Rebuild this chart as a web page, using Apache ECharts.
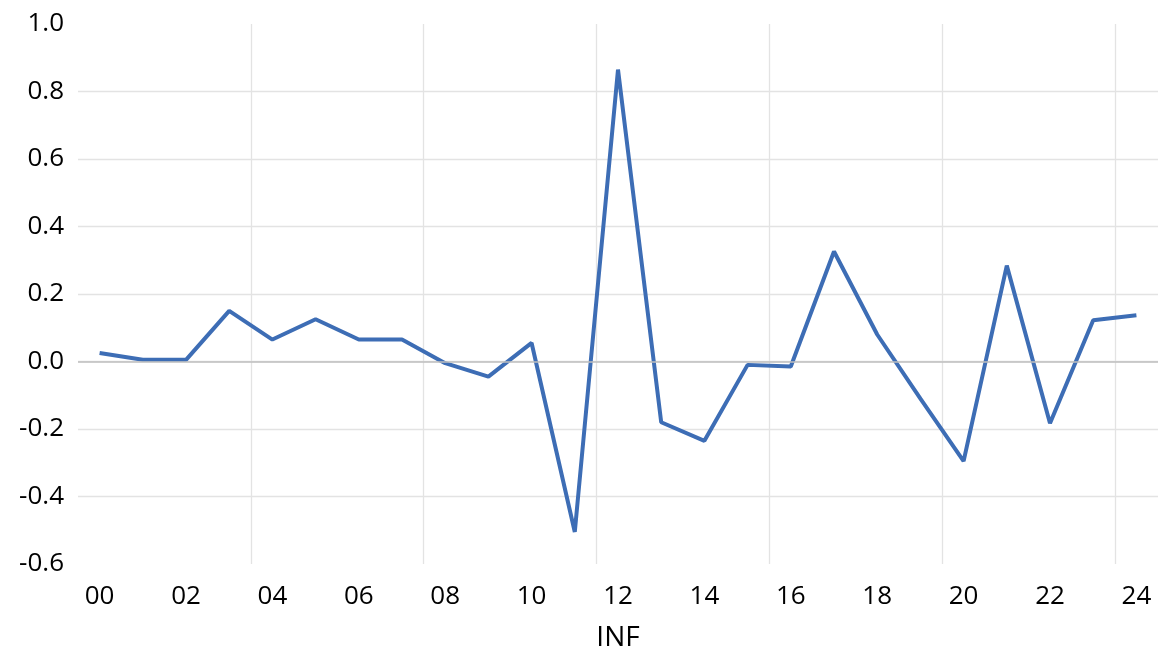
<!DOCTYPE html>
<html>
<head>
<meta charset="utf-8">
<script src="https://cdn.jsdelivr.net/npm/echarts@6/dist/echarts.min.js"></script>
<style>
html,body{margin:0;padding:0;background:#fff;}
#chart{width:1165px;height:659px;}
</style>
</head>
<body>
<div id="chart"></div>
<script>
const categories = ['00','01','02','03','04','05','06','07','08','09','10','11','12','13','14','15','16','17','18','19','20','21','22','23','24'];
const infValues = [0.025,0.005,0.005,0.15,0.065,0.125,0.065,0.065,-0.005,-0.045,0.055,-0.505,0.865,-0.18,-0.235,-0.01,-0.015,0.326,0.08,-0.11,-0.295,0.284,-0.183,0.122,0.137];
const xAxisTitle = 'INF';

const FONT = '"Open Sans", "Liberation Sans", sans-serif';
const GRID_COLOR = '#e3e3e3';
const chart = echarts.init(document.getElementById('chart'), null, {renderer:'canvas'});
chart.setOption({
  animation:false,
  grid:{left:78,right:7,top:24,bottom:95,containLabel:false},
  xAxis:[{
    type:'category',
    data:categories,
    boundaryGap:true,
    name:xAxisTitle,
    nameLocation:'middle',
    nameGap:60,
    nameTextStyle:{fontFamily:FONT,fontSize:28,color:'#000'},
    axisLine:{show:false},
    axisTick:{show:false},
    axisLabel:{interval:1,fontFamily:FONT,fontSize:26,color:'#000',margin:20},
    splitLine:{show:false}
  },{
    // helper axis for vertical gridlines at every 4th category boundary
    type:'value',
    position:'bottom',
    min:0,max:categories.length,interval:4,
    axisLine:{show:false},axisTick:{show:false},axisLabel:{show:false},
    splitLine:{show:true,showMinLine:false,showMaxLine:false,lineStyle:{color:GRID_COLOR,width:1.3}}
  }],
  yAxis:{
    type:'value',
    min:-0.6,max:1.0,interval:0.2,
    axisLine:{show:false},
    axisTick:{show:false},
    axisLabel:{fontFamily:FONT,fontSize:26,color:'#000',margin:14,formatter:function(v){return v.toFixed(1);}},
    splitLine:{show:true,showMinLine:false,showMaxLine:false,lineStyle:{color:GRID_COLOR,width:1.3}}
  },
  series:[{
    type:'line',
    xAxisIndex:0,
    data:infValues,
    symbol:'none',
    lineStyle:{color:'#3d6db5',width:4},
    itemStyle:{color:'#3d6db5'},
    markLine:{
      silent:true,symbol:'none',label:{show:false},
      lineStyle:{color:'#bfbfbf',width:1.5,type:'solid'},
      data:[{yAxis:0}]
    },
    z:3
  }]
});
</script>
</body>
</html>
